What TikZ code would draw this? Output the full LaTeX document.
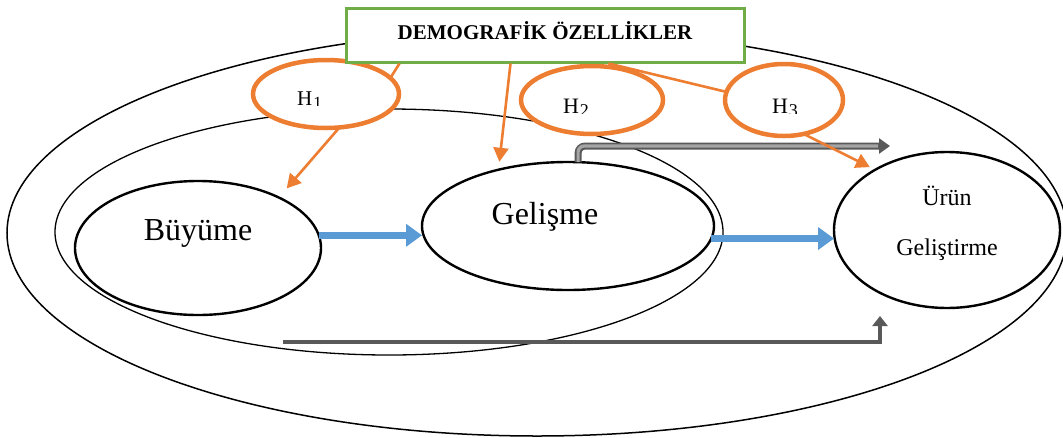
\documentclass[tikz,border=0pt]{standalone}
\usepackage{fontspec}
\setmainfont{Liberation Serif}
\usetikzlibrary{arrows.meta,calc,shapes.geometric}
\definecolor{orng}{HTML}{ED7D31}
\definecolor{blu}{HTML}{5B9BD5}
\definecolor{grn}{HTML}{70AD47}
\definecolor{dgray}{HTML}{595959}
\definecolor{lgray}{HTML}{A5A5A5}
\begin{document}
\begin{tikzpicture}[x=1pt,y=-1pt,
  ell/.style={ellipse, draw, inner sep=0pt, outer sep=0pt, line width=2.4pt},
  ringell/.style={ellipse, draw, inner sep=0pt, outer sep=0pt},
  hell/.style={ellipse, draw=orng, fill=white, line width=4.5pt, inner sep=0pt, outer sep=0pt},
  orarrow/.style={draw=orng, line width=2.6pt, -{Triangle[length=14pt,width=15pt]}},
  orline/.style={draw=orng, line width=2.6pt},
  bluarrow/.style={draw=blu, line width=7pt, -{Triangle[length=16pt,width=22pt]}},
  txt/.style={inner sep=0pt, anchor=base, font=\fontsize{#1}{#1}\selectfont},
  htxt/.style={inner sep=0pt, anchor=base west, font=\fontsize{#1}{#1}\selectfont}
]
\useasboundingbox (0,0) rectangle (1063,437);
\clip (0,0) rectangle (1063,437);

% rings
\node[ringell, line width=1.5pt, minimum width=1060pt, minimum height=406pt] (outer) at (537,233) {};
\node[ringell, line width=1.3pt, minimum width=668pt, minimum height=246pt] (inner) at (389,232) {};

% main ellipses
\node[ell, minimum width=246pt, minimum height=134pt] (buy) at (198,248) {};
\node[ell, minimum width=292pt, minimum height=128pt] (gel) at (568,226) {};
\node[ell, minimum width=226pt, minimum height=156pt] (urun) at (947,230) {};

\node[txt=32] (tbuy) at (198,240) {Büyüme};
\node[txt=32] (tgel) at (545,224) {Gelişme};
\node[txt=24] (turun) at (947,205) {Ürün};
\node[txt=24] (tgelis) at (947,255) {Geliştirme};

% gray arrows
\coordinate (toptip) at (890,146);
\coordinate (botstart) at (283,342);
\coordinate (bottip) at (880,316);
\draw[dgray, line width=7pt, rounded corners=7pt, -{Triangle[length=11pt,width=15pt]}] (gel.81) |- (toptip);
\draw[lgray, line width=3.2pt, rounded corners=6pt, shorten >=12pt] (gel.81) |- (toptip);
\draw[dgray, line width=4.2pt, -{Triangle[length=10pt,width=15pt]}] (botstart) -| (bottip);

% blue arrows
\draw[bluarrow] (buy.6) -- (gel.west |- buy.6);
\draw[bluarrow] (gel.-5) -- (urun.west |- gel.-5);

% hypothesis ellipses
\node[hell, minimum width=146pt, minimum height=68pt] (h1) at (326,94) {};
\node[hell, minimum width=142pt, minimum height=68pt] (h2) at (592,100) {};
\node[hell, minimum width=118pt, minimum height=72pt] (h3) at (784,100) {};
\node[htxt=21] (th1) at (297,105) {H};
\node[htxt=22] (th2) at (563,113) {H};
\node[htxt=22] (th3) at (772,113) {H};
\begin{scope}
  \clip (th1.base east) rectangle ++(14,-16);
  \node[htxt=17] (d1) at ($(th1.base east)+(0.5,3)$) {1};
\end{scope}
\begin{scope}
  \clip (th2.base east) rectangle ++(14,-16);
  \node[htxt=18] (d2) at ($(th2.base east)+(0.5,3.5)$) {2};
\end{scope}
\begin{scope}
  \clip (th3.base east) rectangle ++(14,-16);
  \node[htxt=18] (d3) at ($(th3.base east)+(0.5,3.5)$) {3};
\end{scope}

% box
\node[draw=grn, fill=white, line width=3pt, minimum width=398pt, minimum height=54pt, inner sep=0pt] (box) at (545,35) {};
\node[inner sep=0pt, anchor=base, font=\fontsize{21}{21}\selectfont\bfseries] (tbox) at (545,39) {DEMOGRAFİK ÖZELLİKLER};

% orange connectors
\draw[orline] ($(box.south west)+(55,0)$) -- (h1.14);
\draw[orarrow, shorten >=12pt] (h1.-68) -- (buy.32);
\draw[orarrow, shorten >=8pt] ($(box.south west)+(166,0)$) -- (gel.141);
\draw[orline] ($(box.south west)+(264,0)$) -- (h3.172);
\draw[orarrow, shorten >=6pt] (h3.-60) -- (urun.140);
\end{tikzpicture}
\end{document}
